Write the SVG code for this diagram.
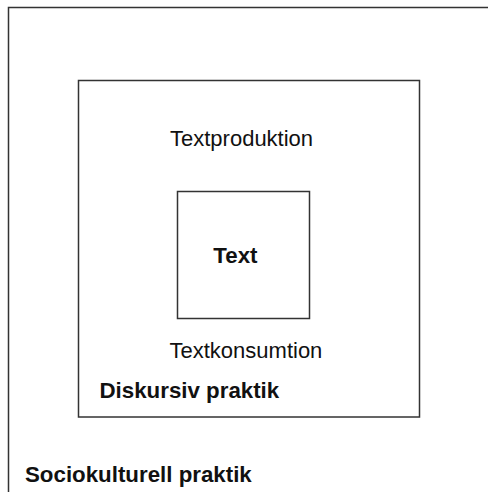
<svg xmlns="http://www.w3.org/2000/svg" width="488" height="492" viewBox="0 0 488 492">
<style>
.box{fill:none;stroke:#333;stroke-width:1.5}
.reg{font-family:"Liberation Sans",Arial,sans-serif;font-size:22px;fill:#111}
.bold{font-family:"Liberation Sans",Arial,sans-serif;font-size:22.3px;font-weight:bold;fill:#111}
</style>
<rect width="488" height="492" fill="#fff"/>
<g id="sociokulturell">
<rect class="box" x="8.5" y="7.5" width="500" height="500"/>
<text class="bold" x="25" y="481.5">Sociokulturell praktik</text>
</g>
<g id="diskursiv">
<rect class="box" x="78.5" y="80.5" width="341" height="336.5"/>
<text class="reg" x="170" y="146">Textproduktion</text>
<text class="reg" x="169.5" y="357.7">Textkonsumtion</text>
<text class="bold" x="99.5" y="398.3">Diskursiv praktik</text>
</g>
<g id="text">
<rect class="box" x="177.5" y="191.5" width="132" height="127"/>
<text class="bold" x="213.3" y="262.7">Text</text>
</g>
<g id="connectors"/>
</svg>
